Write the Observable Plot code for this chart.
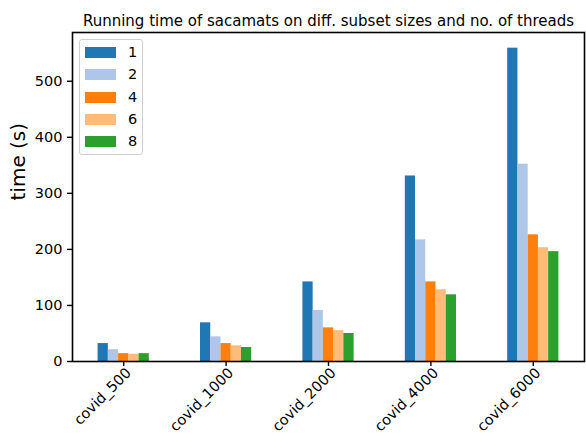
<!DOCTYPE html>
<html>
<head>
<meta charset="utf-8">
<script src="https://cdn.jsdelivr.net/npm/d3@7"></script>
<script src="https://cdn.jsdelivr.net/npm/@observablehq/plot@0.6"></script>
<style>
  html, body { margin: 0; padding: 0; background: white; overflow: hidden; }
  #wrap { position: relative; width: 586px; height: 435px; overflow: hidden; font-family: "DejaVu Sans", sans-serif; }
  #legend { position: absolute; left: 79px; top: 39px; width: 62px; height: 114px; border: 1px solid #d0d0d0; border-radius: 3px; background: rgba(255,255,255,0.8); box-sizing: content-box; }
  .row { position: absolute; left: 0; height: 22px; font-size: 14.5px; color: #000; }
  .sw { position: absolute; left: 5px; width: 31px; height: 11px; }
  .lab { position: absolute; left: 48px; line-height: 15px; }
</style>
</head>
<body>
<div id="wrap"></div>
<script>
// ---- data ----
const titleText = "Running time of sacamats on diff. subset sizes and no. of threads";
const yLabel = "time (s)";
const categories = ["covid_500", "covid_1000", "covid_2000", "covid_4000", "covid_6000"];
const threads = ["1", "2", "4", "6", "8"];
const t1 = [32, 69, 142, 331, 559];
const t2 = [21, 44, 91, 217, 352];
const t4 = [14, 32, 60, 142, 226];
const t6 = [13, 28, 55, 128, 203];
const t8 = [14, 25, 50, 119, 196];
const seriesValues = [t1, t2, t4, t6, t8];
const colors = ["#1f77b4", "#aec7e8", "#ff7f0e", "#ffbb78", "#2ca02c"];
const yTicks = [0, 100, 200, 300, 400, 500];

// ---- layout like pandas grouped bars (total group width 0.5) ----
const groupWidth = 0.5;
const barW = groupWidth / threads.length;
const rows = categories.flatMap((c, ci) => threads.map((t, ti) => ({
  category: c,
  thread: t,
  value: seriesValues[ti][ci],
  x1: ci - groupWidth / 2 + ti * barW,
  x2: ci - groupWidth / 2 + (ti + 1) * barW
})));
const yMax = d3.max(rows, d => d.value) * 1.05;
const xTicks = d3.range(categories.length);

const chart = Plot.plot({
  width: 586,
  height: 435,
  marginLeft: 72,
  marginRight: 2,
  marginTop: 32,
  marginBottom: 74,
  style: { fontFamily: "DejaVu Sans, sans-serif", fontSize: "14.5px", color: "black", background: "white", overflow: "visible" },
  x: { type: "linear", domain: [-0.5, categories.length - 0.5], label: null },
  y: { domain: [0, yMax], label: null },
  color: { domain: threads, range: colors },
  marks: [
    Plot.rect(rows, { x1: "x1", x2: "x2", y1: 0, y2: "value", fill: "thread" }),
    Plot.frame({ stroke: "black", strokeWidth: 1.6 }),
    Plot.axisY({ ticks: yTicks, tickSize: 5, tickPadding: 5, strokeWidth: 1.4, label: null }),
    Plot.axisX({ ticks: xTicks, tickSize: 5, strokeWidth: 1.4, fill: "none", label: null }),
    Plot.axisX({ ticks: xTicks, tickFormat: i => categories[i], tickRotate: -45, tickSize: 5, tickPadding: 4, stroke: "none", dx: 5, label: null }),
    Plot.text([titleText], { frameAnchor: "top", lineAnchor: "bottom", dy: -7, fontSize: 15, fill: "black" }),
    Plot.text([yLabel], { frameAnchor: "left", rotate: -90, dx: -53.5, dy: 3.5, fontSize: 20, fill: "black" })
  ]
});

const wrap = document.getElementById("wrap");
wrap.appendChild(chart);

// legend (matplotlib style, upper left inside the axes)
const legend = document.createElement("div");
legend.id = "legend";
threads.forEach((t, i) => {
  const row = document.createElement("div");
  row.className = "row";
  row.style.top = (1 + i * 22.25) + "px";
  row.style.width = "62px";
  const sw = document.createElement("div");
  sw.className = "sw";
  sw.style.background = colors[i];
  sw.style.top = "6px";
  const lab = document.createElement("div");
  lab.className = "lab";
  lab.style.top = "4px";
  lab.textContent = t;
  row.appendChild(sw);
  row.appendChild(lab);
  legend.appendChild(row);
});
wrap.appendChild(legend);
</script>
</body>
</html>
